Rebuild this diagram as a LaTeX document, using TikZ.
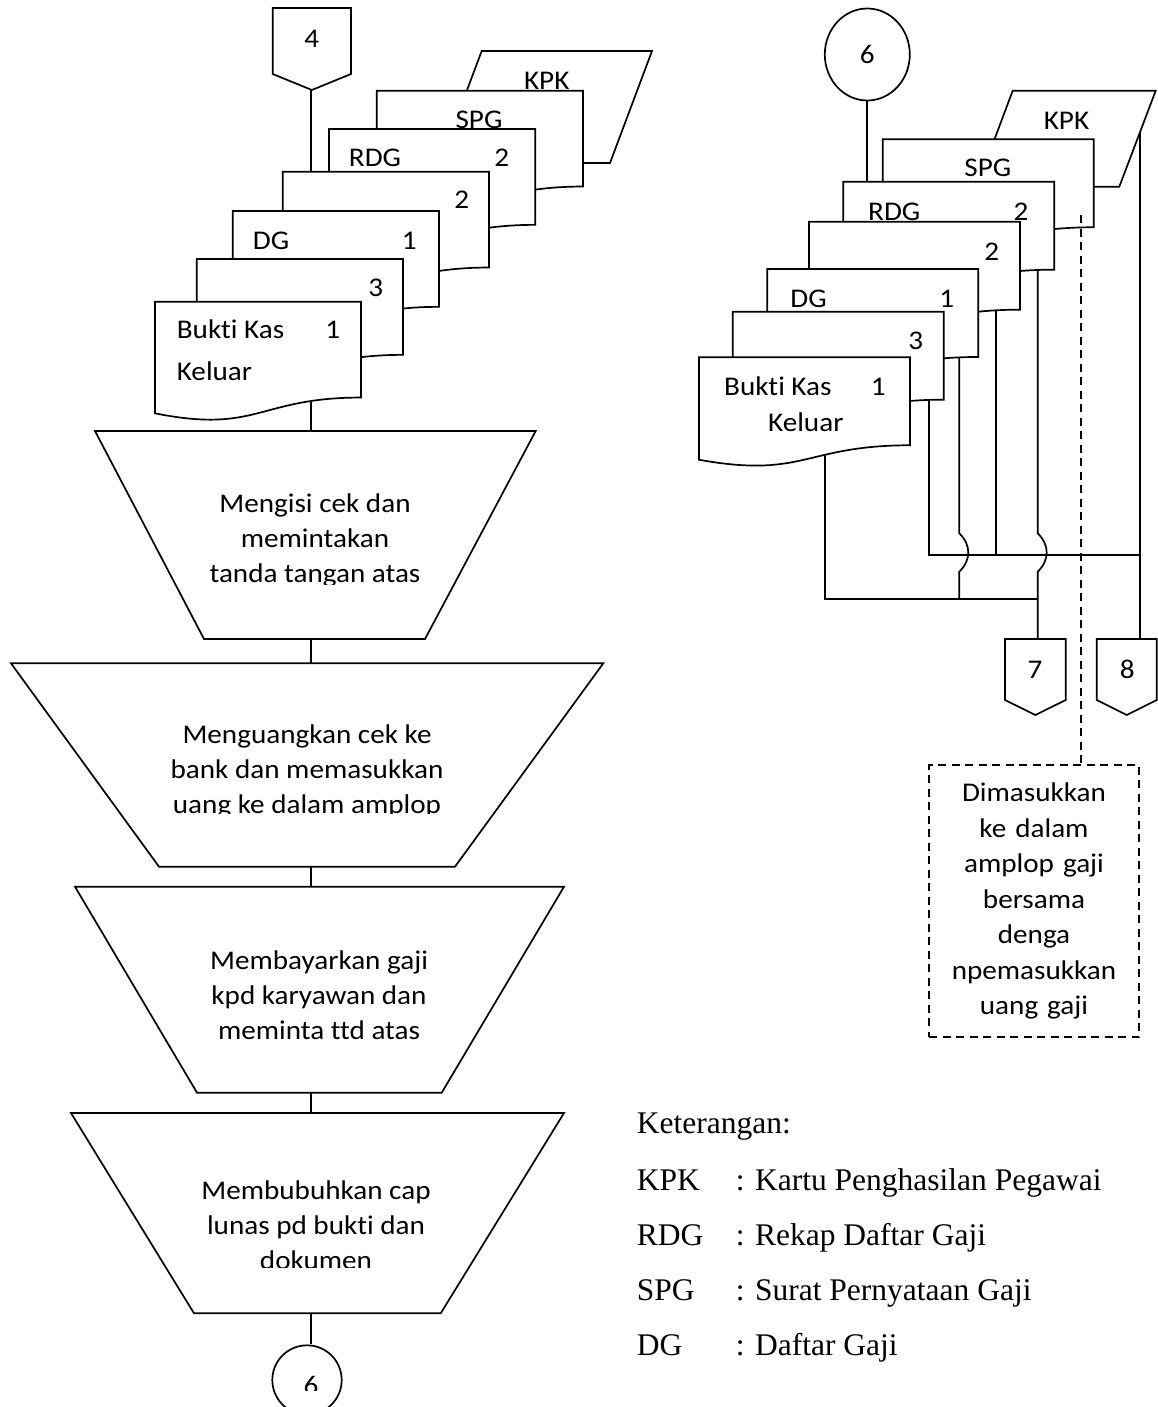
\documentclass[tikz,border=0pt]{standalone}
\usepackage{fontspec}
\setmainfont{Carlito}
\newfontfamily\calfont[FakeStretch=1.08, Ligatures=NoCommon]{Carlito}
\newfontfamily\legendfont{Liberation Serif}
\usetikzlibrary{shapes.geometric,calc}

\tikzset{shapeline/.style={draw=black, fill=white, line width=1.7pt}}

% document symbol: left, top, width, height (wavy bottom edge)
\newcommand{\flowdoc}[4]{%
  \filldraw[shapeline] (#1,#2) -- (#1+#3,#2) -- (#1+#3,#2+0.802*#4)
    .. controls (#1+0.5*#3,#2+0.802*#4) and (#1+0.5*#3,#2+1.107*#4) ..
    (#1,#2+0.934*#4) -- cycle;}
% off-page connector: left, right, top, shoulder, tip
\newcommand{\offpage}[5]{%
  \filldraw[shapeline] (#1,#3) -- (#2,#3) -- (#2,#4) -- ({(#1+#2)/2},#5) -- (#1,#4) -- cycle;}
% centred lines whose reference point is the first baseline
\newcommand{\mlines}[1]{\parbox[t]{420pt}{\centering #1}}

\begin{document}
\begin{tikzpicture}[x=1pt, y=-1pt, line width=1.7pt,
  txt/.style={font=\calfont\fontsize{27}{35}\selectfont, inner sep=0pt, anchor=base},
  txtw/.style={txt, anchor=base west},
  legend/.style={font=\legendfont\fontsize{31.5}{38}\selectfont, inner sep=0pt, anchor=base west},
  link/.style={draw=black, line width=1.7pt},
  dashlink/.style={link, dash pattern=on 8pt off 5.5pt},
]
\path[use as bounding box, fill=white] (0,0) rectangle (1157,1407);

%% ---------------- left column ----------------
\offpage{272.7}{351}{8}{74}{90}
\node[txt] (n4) at (311.7,47.7) {4};
\coordinate (c4tip) at (311,90);
\coordinate (L2top) at (311,171.7);
\draw[link] (c4tip) -- (L2top);

\coordinate (LbkkIn) at (311,395);
\coordinate (t1top) at (311,431);
\draw[link] (LbkkIn) -- (t1top);

% document stack
\filldraw[shapeline] (481.7,51) -- (652,51) -- (610,163) -- (439.7,163) -- cycle;
\node[txt] (kpkL) at (546.7,90) {KPK};
\flowdoc{376.7}{90.7}{206.3}{119.5}
\node[txt] (spgL) at (479,128.5) {SPG};
\flowdoc{329}{129}{206.3}{119.5}
\node[txt] (rdgL) at (375,166.7) {RDG};
\node[txt] (rdgLn) at (501.7,166.7) {2};
\flowdoc{282.7}{171.7}{206.3}{119.5}
\node[txt] (b2Ln) at (461.7,208.3) {2};
\flowdoc{232.7}{211}{206.3}{119.5}
\node[txt] (dgL) at (271,249.3) {DG};
\node[txt] (dgLn) at (409.3,249.3) {1};
\flowdoc{196.7}{259}{206.3}{119.5}
\node[txt] (b3Ln) at (375.7,296.7) {3};
\flowdoc{155}{301.7}{206}{119.5}
\node[txtw] (bkkL1) at (176,338.3) {Bukti Kas};
\node[txt] (bkkLn) at (332.7,338.3) {1};
\node[txtw] (bkkL2) at (176,380) {Keluar};

% manual operations
\filldraw[shapeline] (95,431) -- (535.7,431) -- (425,639) -- (204,639) -- cycle;
\begin{scope}
  \clip (0,431) rectangle (1157,584);
  \node[txt] (op1) at (315,512.7) {\mlines{Mengisi cek dan\\memintakan\\tanda tangan atas}};
\end{scope}
\coordinate (t1bot) at (311,639);
\coordinate (t2top) at (311,663.3);
\draw[link] (t1bot) -- (t2top);

\filldraw[shapeline] (11,663.3) -- (603.3,663.3) -- (455,866.7) -- (159,866.7) -- cycle;
\begin{scope}
  \clip (0,663.3) rectangle (1157,813);
  \node[txt] (op2) at (307,743.3) {\mlines{Menguangkan cek ke\\bank dan memasukkan\\uang ke dalam amplop}};
\end{scope}
\coordinate (t2bot) at (311,866.7);
\coordinate (t3top) at (311,886.7);
\draw[link] (t2bot) -- (t3top);

\filldraw[shapeline] (75,886.7) -- (564,886.7) -- (441.7,1092.7) -- (197,1092.7) -- cycle;
\node[txt] (op3) at (319,969) {\mlines{Membayarkan gaji\\kpd karyawan dan\\meminta ttd atas}};
\coordinate (t3bot) at (311,1092.7);
\coordinate (t4top) at (311,1113);
\draw[link] (t3bot) -- (t4top);

\filldraw[shapeline] (71,1113) -- (564,1113) -- (440.7,1313.3) -- (194,1313.3) -- cycle;
\begin{scope}
  \clip (0,1113) rectangle (1157,1267);
  \node[txt] (op4) at (316,1199) {\mlines{Membubuhkan cap\\lunas pd bukti dan\\dokumen}};
\end{scope}
\coordinate (t4bot) at (311,1313.3);

\node[draw, circle, fill=white, minimum size=69.4pt, inner sep=0pt] (c6b) at (307,1380) {};
\begin{scope}
  \clip (270,1340) rectangle (345,1390);
  \node[txt] (c6btxt) at (311,1394) {6};
\end{scope}
\draw[link] (t4bot) -- (t4bot |- c6b.north);

%% ---------------- right column ----------------
\node[draw, ellipse, fill=white, txt, anchor=center, minimum width=85pt, minimum height=92pt] (c6t) at (867.3,54.5) {6};
\coordinate (RrdgTop) at (867.3,181.7);
\draw[link] (c6t.south) -- (RrdgTop);

% distribution lines (run under the documents)
\coordinate (rBkkIn) at (825,430);
\coordinate (rJ1) at (825,599.3);
\coordinate (rJ7) at (1037.7,599.3);
\coordinate (rB3In) at (929.3,380);
\coordinate (rH1) at (929.3,555);
\coordinate (rH2) at (1140,555);
\coordinate (rDgIn) at (959.3,340);
\coordinate (rDgEnd) at (959.3,599.3);
\coordinate (rB2In) at (995.7,290);
\coordinate (rB2End) at (995.7,555);
\coordinate (rRdgIn) at (1037.7,250);
\coordinate (c7top) at (1037.7,639);
\coordinate (rSpgIn) at (1081,215);
\coordinate (rKpkIn) at (1140,120);
\coordinate (c8top) at (1140,639);

\draw[link] (rBkkIn) -- (rJ1) -- (rJ7);
\draw[link] (rB3In) -- (rH1) -- (rH2);
\draw[link] (rB2In) -- (rB2End);
\draw[link] (rDgIn) -- (959.3,533.3) .. controls (971.3,545) and (971.3,560) .. (959.3,571.7) -- (rDgEnd);
\draw[link] (rRdgIn) -- (1037.7,533.3) .. controls (1049.7,545) and (1049.7,560) .. (1037.7,571.7) -- (c7top);
\draw[link] (rKpkIn) -- (c8top);

% document stack
\filldraw[shapeline] (1012.7,90.7) -- (1155.7,90.7) -- (1119.3,186.7) -- (976.7,186.7) -- cycle;
\node[txt] (kpkR) at (1066.5,129.3) {KPK};
\flowdoc{882.7}{139.3}{211}{109.7}
\node[txt] (spgR) at (987.8,176.7) {SPG};
\flowdoc{843.3}{181.7}{211}{109.7}
\node[txt] (rdgR) at (894.3,220) {RDG};
\node[txt] (rdgRn) at (1021,220) {2};
\flowdoc{809}{221.7}{211}{109.7}
\node[txt] (b2Rn) at (991.7,260) {2};
\flowdoc{767.3}{269}{211}{109.7}
\node[txt] (dgR) at (808.5,307.3) {DG};
\node[txt] (dgRn) at (946.7,307.3) {1};
\flowdoc{732.7}{311.7}{211}{109.7}
\node[txt] (b3Rn) at (915.7,349.3) {3};
\flowdoc{699}{357.3}{211}{109.7}
\node[txtw] (bkkR1) at (723.3,395) {Bukti Kas};
\node[txt] (bkkRn) at (878.3,395) {1};
\node[txtw] (bkkR2) at (767.3,431.7) {Keluar};

% off-page connectors
\offpage{1005}{1065.7}{639}{700}{715}
\node[txt] (n7) at (1035,678.3) {7};
\offpage{1096.7}{1156.7}{639}{700}{715}
\node[txt] (n8) at (1127.3,678.3) {8};

% annotation
\node[draw, line width=2.2pt, dash pattern=on 8pt off 5.5pt, minimum width=210pt, minimum height=272pt,
      inner sep=0pt, text width=205pt, align=center, font=\calfont\fontsize{27}{35.5}\selectfont]
  (note) at (1034,901) {Dimasukkan\\ke dalam\\amplop gaji\\bersama\\denga\\npemasukkan\\uang gaji};
\draw[dashlink] (rSpgIn) -- (rSpgIn |- note.north);

%% ---------------- legend ----------------
\node[legend] (ket) at (636,1133) {Keterangan:};
\node[legend] (k1) at (636,1190) {KPK};
\node[legend] (k1d) at (735,1190) {: Kartu Penghasilan Pegawai};
\node[legend] (k2) at (636,1245) {RDG};
\node[legend] (k2d) at (735,1245) {: Rekap Daftar Gaji};
\node[legend] (k3) at (636,1300) {SPG};
\node[legend] (k3d) at (735,1300) {: Surat Pernyataan Gaji};
\node[legend] (k4) at (636,1355) {DG};
\node[legend] (k4d) at (735,1355) {: Daftar Gaji};
\end{tikzpicture}
\end{document}
